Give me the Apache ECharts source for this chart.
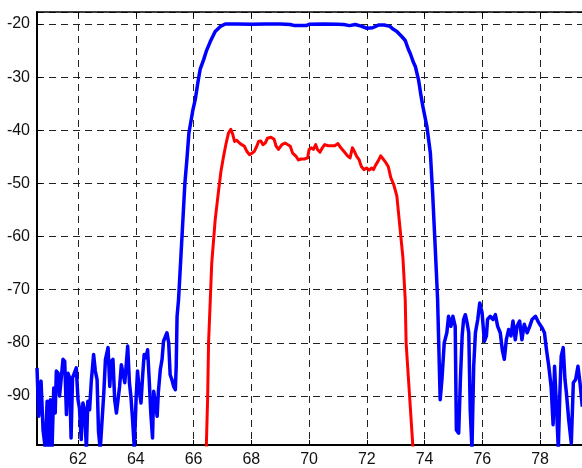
<!DOCTYPE html>
<html>
<head>
<meta charset="utf-8">
<script src="https://cdn.jsdelivr.net/npm/echarts@6/dist/echarts.min.js"></script>
<style>
html,body{margin:0;padding:0;background:#fff;}
#chart{width:582px;height:468px;}
</style>
</head>
<body>
<div id="chart"></div>
<script>
// ---- data ----
const xTickLabels = [62, 64, 66, 68, 70, 72, 74, 76, 78];
const yTickLabels = [-20, -30, -40, -50, -60, -70, -80, -90];

const blueX = [60.58,60.64,60.72,60.79,60.87,60.93,60.98,61.04,61.1,61.16,61.21,61.25,61.31,61.36,61.42,61.48,61.54,61.6,61.65,61.71,61.76,61.81,61.87,61.94,62.0,62.05,62.11,62.17,62.23,62.29,62.34,62.4,62.46,62.54,62.6,62.66,62.71,62.77,62.83,62.89,62.95,63.0,63.04,63.1,63.15,63.21,63.27,63.33,63.39,63.44,63.5,63.56,63.62,63.67,63.72,63.78,63.83,63.89,63.95,64.01,64.06,64.12,64.18,64.24,64.29,64.35,64.41,64.47,64.52,64.58,64.62,64.68,64.74,64.78,64.85,64.91,64.96,65.02,65.08,65.14,65.19,65.25,65.31,65.37,65.4,65.43,65.48,65.52,65.58,65.64,65.7,65.77,65.84,65.98,66.06,66.15,66.23,66.35,66.45,66.58,66.75,66.93,67.1,67.5,68.0,68.5,69.0,69.35,69.5,69.9,70.0,70.5,71.0,71.2,71.4,71.6,71.8,72.0,72.2,72.4,72.6,72.8,72.92,73.04,73.2,73.33,73.44,73.5,73.62,73.68,73.79,73.87,73.94,74.08,74.2,74.28,74.35,74.41,74.45,74.54,74.6,74.68,74.77,74.83,74.91,74.98,75.06,75.1,75.18,75.24,75.3,75.35,75.41,75.47,75.53,75.58,75.64,75.7,75.76,75.84,75.91,75.99,76.07,76.14,76.18,76.27,76.37,76.45,76.53,76.62,76.69,76.76,76.83,76.91,76.99,77.06,77.14,77.2,77.29,77.37,77.45,77.55,77.64,77.72,77.84,77.95,78.07,78.15,78.22,78.3,78.38,78.45,78.5,78.57,78.63,78.68,78.73,78.8,78.86,78.91,78.99,79.08,79.15,79.23,79.31,79.38,79.46];
const blueY = [-84.7,-93.8,-87.2,-96.4,-100,-91,-100,-90.7,-100,-88.5,-93.2,-85.3,-85.7,-90,-86.6,-83.1,-83.5,-93.5,-85.7,-86.6,-97.9,-86.6,-86.9,-84.7,-90.7,-92.3,-98.2,-91.3,-92.6,-100,-91,-92.6,-87.2,-82.2,-85.3,-86.9,-96.7,-100,-100,-89.7,-83.1,-82.8,-80.9,-88.2,-83.5,-83.1,-90.7,-93.2,-92.9,-88.2,-84.1,-83.8,-87.5,-84.1,-80.6,-87.5,-90,-94.5,-100,-90.7,-85.3,-88.8,-91.3,-86,-82.2,-82.8,-81.3,-87.5,-93.2,-97.9,-89.1,-88.8,-93.8,-89.4,-85,-83.1,-79.7,-79.4,-78.1,-80,-86,-86.9,-88.2,-88.8,-84.4,-75,-71.9,-68,-62,-56,-50,-45.5,-40.5,-36.1,-34.2,-31,-28.5,-26.7,-25,-23.3,-21.4,-20.45,-20,-20,-20.05,-20,-20,-20.1,-20.3,-20.3,-20.05,-20,-20.05,-20.1,-20.3,-20.1,-20.4,-20.8,-20.7,-20.2,-20.2,-20.45,-21.0,-21.4,-22.3,-23.1,-24.8,-25.5,-27.3,-28,-30.5,-33.3,-35.5,-39.3,-44.3,-52,-60,-67,-71.8,-90.7,-86.9,-80,-78.1,-75,-76.9,-75,-76.9,-96.4,-97,-86.9,-78.7,-75.6,-74.7,-76.2,-78.1,-92.6,-100,-84.4,-78.1,-75.6,-72.5,-74.3,-79.7,-78.7,-75.6,-75,-75.6,-74.7,-76.9,-78.1,-81.3,-83.1,-79.4,-77.5,-78.7,-75.9,-79.4,-76.9,-75.9,-79.4,-76.5,-78.1,-76.9,-75.6,-75,-76.2,-77.2,-78.1,-81.3,-84.4,-88.2,-95.4,-84.4,-92.6,-100,-90,-82.5,-80.9,-86.9,-89.4,-94.5,-98.9,-87.5,-86.9,-84.4,-87.5,-92];

const redX = [66.44,66.49,66.52,66.58,66.63,66.75,66.87,66.95,67.04,67.13,67.21,67.29,67.36,67.42,67.5,67.59,67.67,67.76,67.85,67.94,68.02,68.1,68.19,68.25,68.33,68.4,68.48,68.56,68.68,68.79,68.86,68.94,69.06,69.17,69.23,69.35,69.43,69.55,69.63,69.72,69.84,69.95,70.0,70.08,70.15,70.23,70.29,70.38,70.46,70.54,70.66,70.77,70.89,71.0,71.1,71.21,71.33,71.42,71.5,71.58,71.65,71.73,71.81,71.9,71.99,72.08,72.16,72.23,72.31,72.39,72.48,72.58,72.66,72.74,72.83,72.93,73.04,73.12,73.25,73.33,73.36,73.48,73.6];
const redY = [-100,-90,-80,-71.9,-65,-56.8,-51.2,-47.7,-44.9,-42.4,-40.5,-39.8,-40.8,-42.1,-41.9,-42.4,-42.7,-43,-44,-44.6,-44.3,-44,-43,-42.1,-42,-42.7,-42.4,-41.5,-41.3,-41.7,-43,-43.6,-42.7,-42.4,-42.1,-43,-44.3,-44.9,-45.6,-45.4,-45.4,-45.2,-43.6,-43.3,-43.6,-42.7,-43.6,-44.1,-43.3,-42.7,-42.9,-42.9,-42.9,-42.5,-43.3,-44,-44.8,-45.2,-43.3,-44.1,-44.9,-45.5,-46.8,-47.4,-47.1,-47.5,-47.1,-47.4,-46.5,-45.8,-44.8,-45.5,-46.1,-46.8,-48.9,-50.2,-52.4,-56.8,-64,-71.9,-80,-90,-100];

const xMin = 60.58, xMax = 79.45;
const yMin = -99.22, yMax = -17.74;

const zip = (xs, ys) => xs.map((x, i) => [x, ys[i]]);

const chart = echarts.init(document.getElementById('chart'), null, {renderer: 'canvas'});
const labelFont = {fontFamily: 'Liberation Sans, Arial, sans-serif', fontSize: 16, color: '#111'};
const gridLine = {show: true, lineStyle: {color: '#222', width: 1, type: [7, 5]}};

chart.setOption({
  animation: false,
  backgroundColor: '#fff',
  grid: {left: 37, right: 0, top: 12, bottom: 23, containLabel: false},
  xAxis: [{
    type: 'value', min: xMin, max: xMax, splitNumber: 9,
    axisLine: {show: true, onZero: false, lineStyle: {color: '#000', width: 2}},
    axisTick: {show: true, inside: true, length: 5, lineStyle: {color: '#000'}},
    axisLabel: Object.assign({margin: 7, showMinLabel: false, showMaxLabel: false,
      formatter: v => xTickLabels.includes(Math.round(v*1000)/1000) ? String(v) : ''}, labelFont),
    splitLine: gridLine
  }, {
    type: 'value', position: 'top', min: xMin, max: xMax, splitNumber: 9,
    axisLine: {show: true, onZero: false, lineStyle: {color: '#000', width: 1.5}},
    axisTick: {show: true, inside: true, length: 5, lineStyle: {color: '#000'}},
    axisLabel: {show: false},
    splitLine: {show: false}
  }],
  yAxis: {
    type: 'value', min: yMin, max: yMax, splitNumber: 8,
    axisLine: {show: true, onZero: false, lineStyle: {color: '#000', width: 2}},
    axisTick: {show: true, inside: true, length: 5, lineStyle: {color: '#000'}},
    axisLabel: Object.assign({margin: 7, showMinLabel: false, showMaxLabel: false,
      formatter: v => yTickLabels.includes(Math.round(v*1000)/1000) ? String(v) : ''}, labelFont),
    splitLine: gridLine
  },
  series: [{
    type: 'line', data: zip(blueX, blueY), showSymbol: false, symbol: 'none', clip: true,
    lineStyle: {color: '#0000ff', width: 3.5, join: 'round'}
  }, {
    type: 'line', data: zip(redX, redY), showSymbol: false, symbol: 'none', clip: true,
    lineStyle: {color: '#ff0000', width: 3, join: 'round'}
  }]
});
</script>
</body>
</html>
